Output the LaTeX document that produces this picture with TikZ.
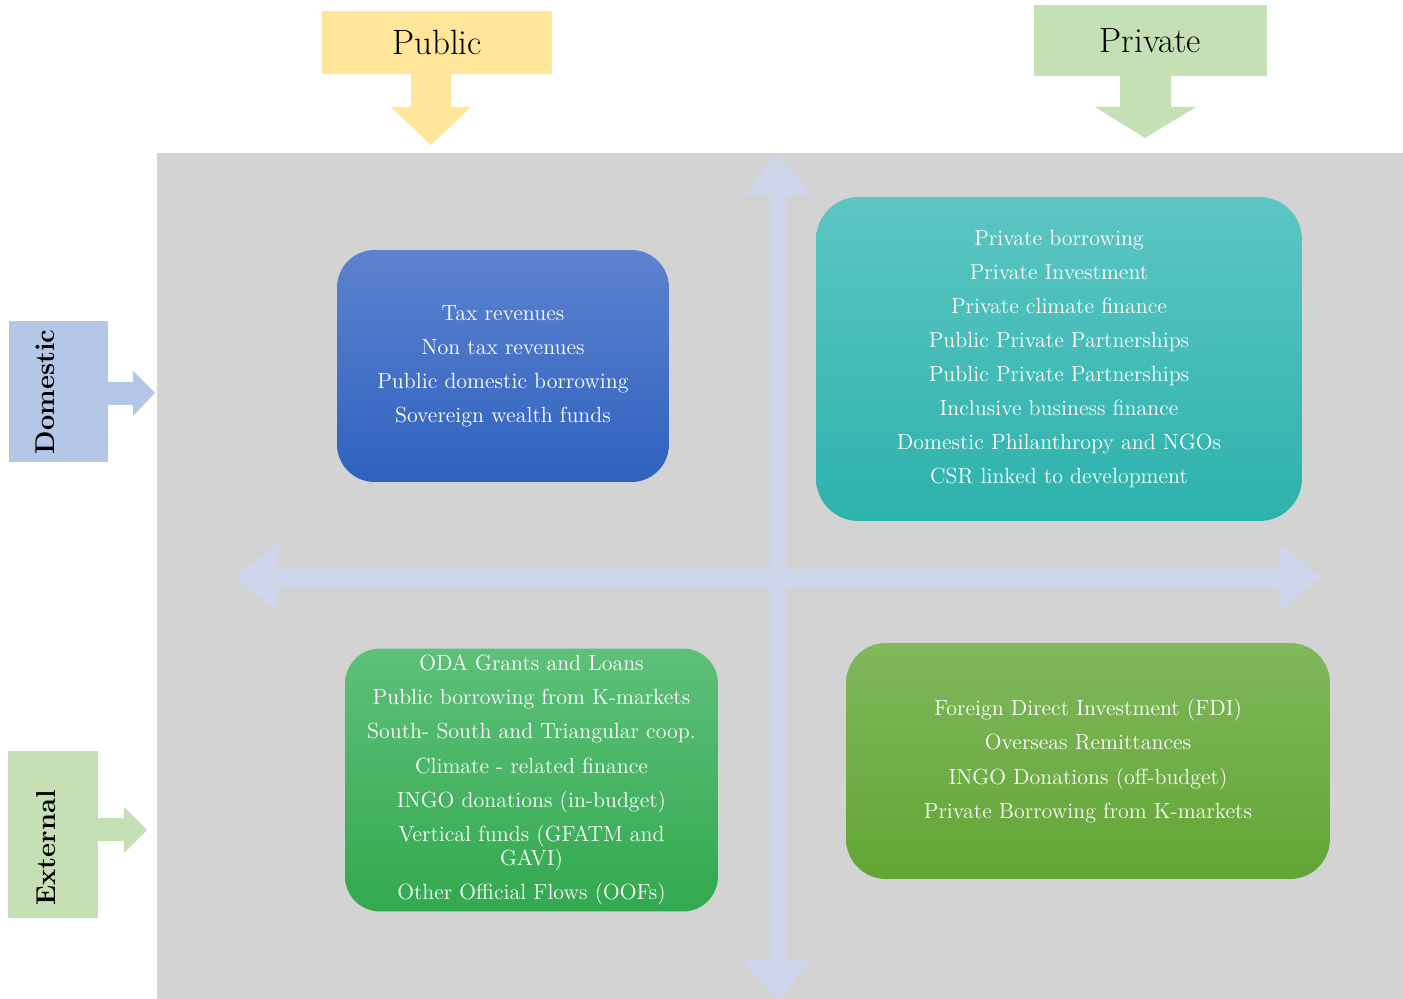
\documentclass[tikz,border=0pt]{standalone}
\usepackage{tikz}

\definecolor{panelgray}{HTML}{D3D3D3}
\definecolor{axislilac}{HTML}{CFD5EA}
\definecolor{publicgold}{HTML}{FFE699}
\definecolor{privatesage}{HTML}{C5E0B4}
\definecolor{domesticblue}{HTML}{B4C7E7}

\tikzset{
  header/.style={minimum width=4.6cm, minimum height=1.26cm, inner sep=0pt,
    font=\fontsize{20}{24}\selectfont},
  sidebox/.style={minimum width=1.9cm, inner sep=0pt},
  sidetext/.style={rotate=90, font=\fontsize{15.5}{18}\selectfont\bfseries},
  fundbox/.style={rounded corners=0.75cm, text=white, align=center, inner sep=0pt,
    font=\fontsize{12.5}{19.4}\selectfont}
}

\begin{document}
\begin{tikzpicture}[x=0.02cm, y=-0.02cm]
  \useasboundingbox (0, 0) rectangle (1403, 999);
  \fill[panelgray] (157, 153) rectangle (1403, 999);

  % axes
  \fill[axislilac] (778, 154) -- (810, 195) -- (786, 195) -- (786, 960) -- (811, 960)
    -- (778, 1001) -- (744, 960) -- (770, 960) -- (770, 195) -- (744, 195) -- cycle;
  \fill[axislilac] (234, 577) -- (277, 544) -- (277, 569) -- (1279, 569) -- (1279, 544)
    -- (1321, 577) -- (1279, 611) -- (1279, 587) -- (277, 587) -- (277, 611) -- cycle;

  % column headers
  \node[header, fill=publicgold] (public) at (437, 42.5) {Public};
  \fill[publicgold] (411, 73) -- (451, 73) -- (451, 107) -- (471, 107) -- (431, 145)
    -- (391, 107) -- (411, 107) -- cycle;
  \node[header, fill=privatesage, minimum width=4.66cm, minimum height=1.42cm]
    (private) at (1150.5, 40.5) {Private};
  \fill[privatesage] (1120, 75) -- (1171, 75) -- (1171, 107) -- (1196, 107) -- (1145, 138)
    -- (1095, 107) -- (1120, 107) -- cycle;

  % row headers
  \node[sidebox, fill=domesticblue, minimum width=1.98cm, minimum height=2.82cm]
    (domestic) at (58.5, 391.5) {};
  \node[sidetext] (domesticlabel) at (45, 392) {Domestic};
  \fill[domesticblue] (107, 382) -- (133, 382) -- (133, 371) -- (155, 393) -- (133, 416)
    -- (133, 405) -- (107, 405) -- cycle;
  \node[sidebox, fill=privatesage, minimum width=1.8cm, minimum height=3.34cm]
    (external) at (53, 834.5) {};
  \node[sidetext] (externallabel) at (46, 848) {External};
  \fill[privatesage] (97, 818) -- (124, 818) -- (124, 807) -- (147, 830) -- (124, 853)
    -- (124, 841) -- (97, 841) -- cycle;

  % quadrants
  \node[fundbox, top color={rgb,255:red,93;green,130;blue,207},
    bottom color={rgb,255:red,46;green,98;blue,190},
    minimum width=6.64cm, minimum height=4.64cm] (pubdom) at (503, 366)
    {Tax revenues\\Non tax revenues\\Public domestic borrowing\\Sovereign wealth funds};
  \node[fundbox, rounded corners=0.85cm, top color={rgb,255:red,92;green,198;blue,195},
    bottom color={rgb,255:red,45;green,178;blue,172},
    minimum width=9.72cm, minimum height=6.48cm] (privdom) at (1059, 359)
    {Private borrowing\\Private Investment\\Private climate finance\\
     Public Private Partnerships\\Public Private Partnerships\\
     Inclusive business finance\\Domestic Philanthropy and NGOs\\
     CSR linked to development};
  \node[fundbox, rounded corners=0.7cm, top color={rgb,255:red,94;green,192;blue,122},
    bottom color={rgb,255:red,50;green,169;blue,79},
    minimum width=7.46cm, minimum height=5.26cm] (pubext) at (531.5, 780)
    {ODA Grants and Loans\\Public borrowing from K-markets\\
     South- South and Triangular coop.\\Climate - related finance\\
     INGO donations (in-budget)\\Vertical funds (GFATM and\\[-5.7pt]GAVI)\\
     Other Official Flows (OOFs)};
  \node[fundbox, rounded corners=0.8cm, top color={rgb,255:red,128;green,184;blue,93},
    bottom color={rgb,255:red,98;green,165;blue,52},
    minimum width=9.68cm, minimum height=4.72cm] (privext) at (1088, 761)
    {Foreign Direct Investment (FDI)\\Overseas Remittances\\
     INGO Donations (off-budget)\\Private Borrowing from K-markets};
\end{tikzpicture}
\end{document}
